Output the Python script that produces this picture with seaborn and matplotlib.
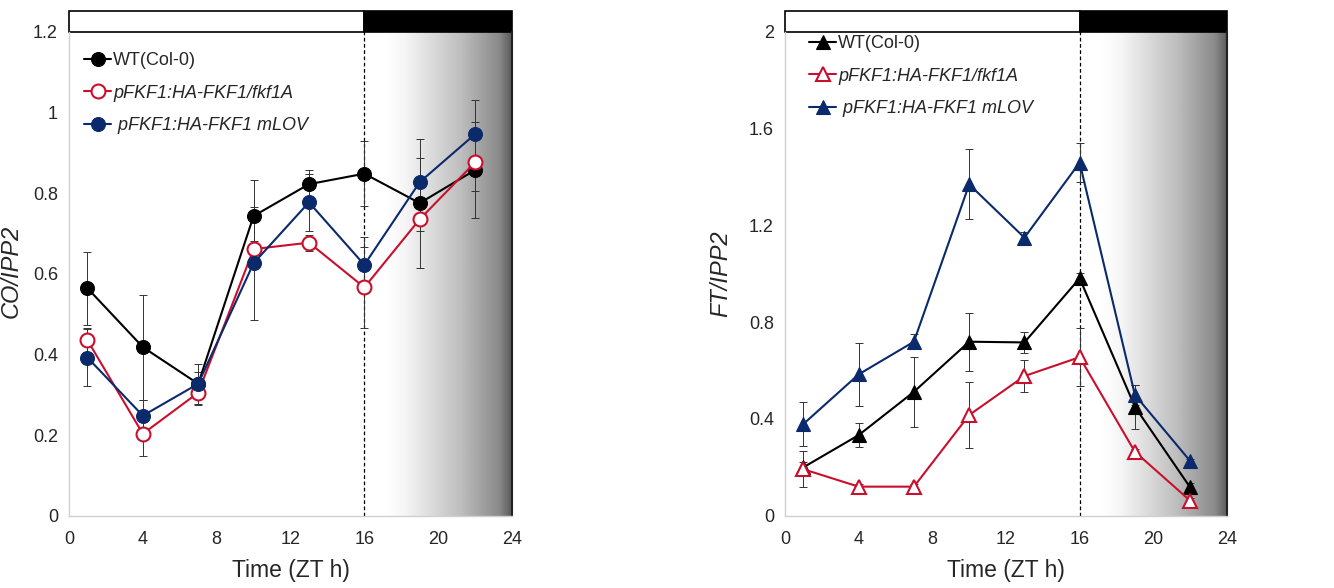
import matplotlib
matplotlib.use("Agg")
import matplotlib.pyplot as plt
import matplotlib.transforms as mtransforms
from matplotlib.colors import LinearSegmentedColormap
from matplotlib.patches import Rectangle
import numpy as np
import pandas as pd
import seaborn as sns

# ---------------------------------------------------------------------------
# Data
# ---------------------------------------------------------------------------

ZT = [1, 4, 7, 10, 13, 16, 19, 22]

LABELS = ["WT(Col-0)", "pFKF1:HA-FKF1/fkf1A", " pFKF1:HA-FKF1 mLOV"]

co_wt       = [0.564, 0.418, 0.327, 0.743, 0.822, 0.848, 0.775, 0.857]
co_wt_err   = [0.09, 0.13, 0.05, 0.09, 0.035, 0.08, 0.16, 0.12]
co_fkf1     = [0.435, 0.203, 0.305, 0.661, 0.677, 0.566, 0.735, 0.876]
co_fkf1_err = [0.03, 0.055, 0.03, 0.02, 0.02, 0.10, 0.03, 0.07]
co_mlov     = [0.392, 0.248, 0.327, 0.626, 0.777, 0.622, 0.827, 0.946]
co_mlov_err = [0.07, 0.04, 0.03, 0.14, 0.07, 0.07, 0.06, 0.085]

ft_wt       = [0.200, 0.333, 0.512, 0.719, 0.716, 0.981, 0.450, 0.117]
ft_wt_err   = [0.02, 0.05, 0.145, 0.12, 0.045, 0.02, 0.09, 0.02]
ft_fkf1     = [0.192, 0.120, 0.120, 0.416, 0.577, 0.655, 0.264, 0.062]
ft_fkf1_err = [0.075, 0.01, 0.01, 0.137, 0.065, 0.12, 0.01, 0.01]
ft_mlov     = [0.379, 0.584, 0.719, 1.369, 1.149, 1.459, 0.499, 0.226]
ft_mlov_err = [0.09, 0.13, 0.03, 0.145, 0.025, 0.08, 0.04, 0.01]

# ---------------------------------------------------------------------------
# Style
# ---------------------------------------------------------------------------

C_WT   = "#000000"
C_FKF1 = "#C8102E"
C_MLOV = "#0B2A6B"
SPINE  = "#D0D0D0"

sns.set_style("white")
plt.rcParams["font.family"] = ["Liberation Sans", "DejaVu Sans"]

shade_cmap = LinearSegmentedColormap.from_list(
    "night", [(0.0, "#FFFFFF"), (0.15, "#F6F6F6"), (0.6, "#BDBDBD"), (0.9, "#8A8A8A"), (1.0, "#5A5A5A")]
)


def decorate(ax, ymax, yticks):
    ax.set_xlim(0, 24)
    ax.set_ylim(0, ymax)
    ax.set_xticks(range(0, 25, 4))
    ax.set_yticks(yticks)
    ax.set_yticklabels([f"{t:g}" for t in yticks])
    ax.tick_params(labelsize=13, length=0, pad=8)
    ax.tick_params(axis="x", pad=11)

    # night shading gradient
    grad = np.linspace(0, 1, 256).reshape(1, -1)
    ax.imshow(grad, extent=(17.2, 24, 0, ymax), aspect="auto", cmap=shade_cmap,
              zorder=0, interpolation="bilinear")
    ax.set_xlim(0, 24)
    ax.set_ylim(0, ymax)

    for side in ("left", "bottom"):
        ax.spines[side].set_color(SPINE)
        ax.spines[side].set_linewidth(1.0)
    ax.spines["top"].set_visible(False)
    ax.spines["right"].set_color("#222222")
    ax.spines["right"].set_linewidth(1.5)

    ax.axvline(16, color="black", linestyle=(0, (3, 2)), linewidth=0.9, zorder=1)

    # light / dark bar above the axes
    trans = mtransforms.blended_transform_factory(ax.transData, ax.transAxes)
    ax.add_patch(Rectangle((0, 1.0), 16, 0.042, transform=trans, clip_on=False,
                           facecolor="white", edgecolor="black", linewidth=1.2))
    ax.add_patch(Rectangle((16, 1.0), 8, 0.042, transform=trans, clip_on=False,
                           facecolor="black", edgecolor="black", linewidth=1.2))

    ax.set_xlabel("Time (ZT h)", fontsize=16.5, labelpad=8)


def draw_series(ax, y, err, color, marker, filled, label):
    df = pd.DataFrame({"zt": ZT, "val": y})
    ax.errorbar(ZT, y, yerr=err, fmt="none", ecolor="#333333", elinewidth=0.7,
                capsize=3, capthick=0.7, zorder=2)
    sns.lineplot(
        data=df, x="zt", y="val", ax=ax, color=color, linewidth=1.5,
        marker=marker, markersize=10 if marker == "o" else 9.5,
        markerfacecolor=color if filled else "white",
        markeredgecolor=color, markeredgewidth=1.5 if not filled else 0.8,
        label=label, zorder=3,
    )


fig = plt.figure(figsize=(13.34, 5.88), dpi=100)
ax1 = fig.add_axes([69 / 1334, 1 - 515.7 / 588, 443 / 1334, 484 / 588])
ax2 = fig.add_axes([785 / 1334, 1 - 515.7 / 588, 442 / 1334, 484 / 588])

# --- CO panel
decorate(ax1, 1.2, [0, 0.2, 0.4, 0.6, 0.8, 1.0, 1.2])
draw_series(ax1, co_wt, co_wt_err, C_WT, "o", True, LABELS[0])
draw_series(ax1, co_fkf1, co_fkf1_err, C_FKF1, "o", False, LABELS[1])
draw_series(ax1, co_mlov, co_mlov_err, C_MLOV, "o", True, LABELS[2])
ax1.set_ylabel("CO/IPP2", fontsize=17, fontstyle="italic")
ax1.yaxis.set_label_coords(-0.104, 0.505)

# --- FT panel
decorate(ax2, 2.0, [0, 0.4, 0.8, 1.2, 1.6, 2.0])
draw_series(ax2, ft_wt, ft_wt_err, C_WT, "^", True, LABELS[0])
draw_series(ax2, ft_fkf1, ft_fkf1_err, C_FKF1, "^", False, LABELS[1])
draw_series(ax2, ft_mlov, ft_mlov_err, C_MLOV, "^", True, LABELS[2])
ax2.set_ylabel("FT/IPP2", fontsize=17, fontstyle="italic")
ax2.yaxis.set_label_coords(-0.12, 0.50)

for ax, anchor in ((ax1, (0.01, 0.98)), (ax2, (0.03, 1.015))):
    leg = ax.legend(loc="upper left", bbox_to_anchor=anchor, frameon=False,
                    fontsize=13, handlelength=1.5, handletextpad=0.1,
                    labelspacing=0.85, borderaxespad=0.2)
    for i, txt in enumerate(leg.get_texts()):
        if i > 0:
            txt.set_fontstyle("italic")

fig.savefig("out.png", dpi=100)
